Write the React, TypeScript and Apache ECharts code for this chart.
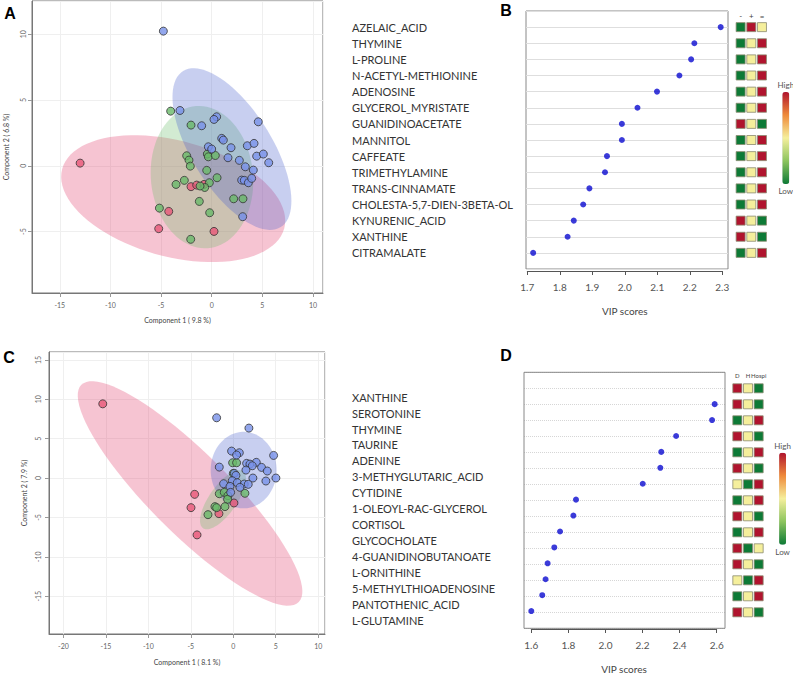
import React, { useEffect, useRef } from "react";
import * as echarts from "echarts";

// ---------- Panel A (PLS-DA scores) ----------
const aRed: number[][] = [[-12.99, 0.2], [-2.04, -1.59], [-1.48, -1.47], [-0.76, -1.42], [-4.24, -3.47], [-5.23, -4.78], [0.23, -4.99]];
const aGreen: number[][] = [[-4.05, 4.15], [-2.04, 3.09], [-2.47, 0.76], [-2.24, 0.43], [-2.11, -0.03], [-0.43, 0.89], [-0.33, 0.68], [0.36, 0.78], [-0.49, -0.35], [0.53, -0.91], [-2.7, -1.11], [-3.52, -1.42], [-0.23, -1.29], [-0.69, -1.65], [-1.15, -1.54], [2.17, -2.51], [3.09, -2.51], [-1.22, -2.71], [-0.2, -3.57], [-5.16, -3.22], [-2.07, -5.59]];
const aBlue: number[][] = [[-4.77, 10.23], [-3.13, 4.2], [0.49, 3.72], [0.23, 3.52], [-0.99, 3.04], [4.6, 3.34], [0.99, 2.08], [1.15, 1.95], [1.91, 1.37], [3.52, 1.52], [4.18, 1.7], [-0.33, 1.44], [0.0, 1.27], [1.61, 0.61], [2.73, 0.41], [4.44, 0.73], [5.1, 0.89], [5.63, 0.23], [3.32, -0.08], [4.11, -0.33], [2.96, -1.09], [3.22, -1.11], [3.62, -1.29], [3.95, -0.96], [3.06, -3.87]];
// ellipse: [cx, cy, axisA_x, axisA_y, axisB_x, axisB_y]  (red, green, blue)
const aEllipses: number[][] = [
  [-3.8, -2.5, 10.96, -2.26, 1.48, 4.26],
  [-0.96, -0.86, -0.59, 5.4, 5.03, 0.3],
  [2.0, 1.27, 4.82, -5.93, 3.35, 1.61],
];

// ---------- Panel C ----------
const cRed: number[][] = [[-15.37, 9.42], [-4.55, -2.07], [-4.98, -3.76], [-4.27, -7.22], [-1.69, -4.52], [0.08, -3.17]];
const cBlue: number[][] = [[-1.96, 7.65], [1.84, 6.34], [-0.2, 3.42], [0.71, 3.21], [0.39, 2.92], [4.75, 2.87], [2.71, 1.99], [1.57, 1.86], [1.96, 1.77], [2.24, 1.56], [3.33, 1.35], [-1.65, 1.39], [4.0, 0.89], [1.49, 1.01], [0.12, 0.59], [0.31, 0.34], [5.02, 0.0], [2.31, 0.0], [3.84, -0.38], [-0.12, -0.34], [0.47, -0.59], [1.29, -0.76], [1.76, -0.8], [-1.14, -0.72], [-0.39, -1.06], [0.78, -1.18], [-0.31, -1.82]];
const cGreen: number[][] = [[-0.08, 1.94], [0.39, 1.94], [0.0, 0.59], [1.37, -1.94], [-1.65, -1.99], [-1.06, -1.82], [-0.63, -2.24], [-0.67, -2.7], [-2.16, -3.63], [-1.96, -3.76], [-0.98, -3.63], [-2.98, -4.65]];
const cEllipses: number[][] = [
  [-5.09, -1.96, 12.8, -13.79, 3.33, 3.59],
  [-1.21, -2.75, 2.35, 3.62, 1.33, -1.0],
  [1.22, 1.01, 3.88, 0, 0, 4.86],
];

// ---------- Panel B (VIP) ----------
const bNames: string[] = ["AZELAIC_ACID", "THYMINE", "L-PROLINE", "N-ACETYL-METHIONINE", "ADENOSINE", "GLYCEROL_MYRISTATE", "GUANIDINOACETATE", "MANNITOL", "CAFFEATE", "TRIMETHYLAMINE", "TRANS-CINNAMATE", "CHOLESTA-5,7-DIEN-3BETA-OL", "KYNURENIC_ACID", "XANTHINE", "CITRAMALATE"];
const bVip: number[] = [2.295, 2.214, 2.204, 2.168, 2.099, 2.039, 1.991, 1.991, 1.945, 1.939, 1.891, 1.872, 1.843, 1.824, 1.718];
const bGroups: string[] = ["-", "+", "="];
// 0 = low, 1 = mid, 2 = high
const bHeat: number[][] = [[0, 2, 1], [0, 1, 2], [0, 1, 2], [0, 1, 2], [0, 1, 2], [0, 1, 2], [2, 1, 0], [0, 1, 2], [0, 1, 2], [0, 1, 2], [0, 1, 2], [0, 1, 2], [2, 1, 0], [2, 1, 0], [0, 1, 2]];
const bTicks = { min: 1.7, max: 2.3, step: 0.1 };

// ---------- Panel D (VIP) ----------
const dNames: string[] = ["XANTHINE", "SEROTONINE", "THYMINE", "TAURINE", "ADENINE", "3-METHYGLUTARIC_ACID", "CYTIDINE", "1-OLEOYL-RAC-GLYCEROL", "CORTISOL", "GLYCOCHOLATE", "4-GUANIDINOBUTANOATE", "L-ORNITHINE", "5-METHYLTHIOADENOSINE", "PANTOTHENIC_ACID", "L-GLUTAMINE"];
const dVip: number[] = [2.602, 2.589, 2.575, 2.381, 2.301, 2.296, 2.201, 1.841, 1.827, 1.755, 1.724, 1.688, 1.677, 1.659, 1.6];
const dGroups: string[] = ["D", "H", "Hospi"];
const dHeat: number[][] = [[2, 1, 0], [2, 1, 0], [0, 1, 2], [2, 1, 0], [0, 1, 2], [2, 1, 0], [1, 0, 2], [0, 1, 2], [2, 1, 0], [0, 1, 2], [2, 0, 1], [2, 1, 0], [1, 0, 2], [0, 1, 2], [2, 1, 0]];
const dTicks = { min: 1.6, max: 2.6, step: 0.2 };

const FONT = "Lato, 'Liberation Sans', sans-serif";
const fills = ["rgba(229,86,126,0.35)", "rgba(105,188,105,0.3)", "rgba(72,95,205,0.3)"];
const pointColors = ["rgba(232,88,120,0.8)", "rgba(105,185,105,0.8)", "rgba(120,145,232,0.8)"];
const heatColors = ["#0d7a36", "#8cc45e", "#f5ef9c", "#ef8a3a", "#b0142e"];

function ellipseSeries(data: number[][], gi: number) {
  return {
    type: "custom",
    xAxisIndex: gi,
    yAxisIndex: gi,
    silent: true,
    z: 1,
    data: data,
    encode: { x: 0, y: 1 },
    renderItem: (params: any, api: any) => {
      const e = data[params.dataIndex];
      const pts: number[][] = [];
      for (let k = 0; k < 90; k++) {
        const t = (k / 90) * Math.PI * 2;
        pts.push(api.coord([e[0] + Math.cos(t) * e[2] + Math.sin(t) * e[4], e[1] + Math.cos(t) * e[3] + Math.sin(t) * e[5]]));
      }
      return { type: "polygon", shape: { points: pts }, style: { fill: fills[params.dataIndex], stroke: "none" } };
    },
  };
}

function pointSeries(data: number[][], gi: number, ci: number) {
  return {
    type: "scatter",
    xAxisIndex: gi,
    yAxisIndex: gi,
    z: 3,
    symbolSize: 8,
    data: data,
    itemStyle: { color: pointColors[ci], borderColor: "#333", borderWidth: 0.8, opacity: 1 },
  };
}

function scoreAxes(xr: number[], yr: number[], xName: string, yName: string, ySplit: number, gi: number) {
  const lbl = { fontSize: 7, color: "#666", fontFamily: FONT, showMinLabel: false, showMaxLabel: false };
  return {
    x: {
      type: "value", gridIndex: gi, min: xr[0], max: xr[1], splitNumber: 5,
      axisLine: { onZero: false, lineStyle: { color: "#777" } },
      axisTick: { show: true, length: 4, lineStyle: { color: "#999" } },
      axisLabel: { ...lbl, margin: 8 },
      splitLine: { show: true, lineStyle: { color: "#efefef" } },
      name: xName, nameLocation: "middle", nameGap: gi === 0 ? 23 : 24,
      nameTextStyle: { fontSize: 7, color: "#444", fontFamily: FONT },
    },
    y: {
      type: "value", gridIndex: gi, min: yr[0], max: yr[1], splitNumber: ySplit,
      axisLine: { onZero: false, lineStyle: { color: "#777" } },
      axisTick: { show: true, length: 4, lineStyle: { color: "#999" } },
      axisLabel: { ...lbl, rotate: 90, margin: gi === 0 ? 6 : 8 },
      splitLine: { show: true, lineStyle: { color: "#efefef" } },
      name: yName, nameLocation: "middle", nameGap: gi === 0 ? 23 : 22,
      nameTextStyle: { fontSize: 7, color: "#444", fontFamily: FONT },
    },
  };
}

function rowAxis(gi: number, extra: any = {}) {
  return {
    type: "value", gridIndex: gi, min: -1, max: 15, interval: 1, inverse: true,
    axisLine: { show: false, onZero: false }, axisTick: { show: false }, axisLabel: { show: false }, splitLine: { show: false },
    ...extra,
  };
}

export default function App() {
  const ref = useRef<HTMLDivElement>(null);
  useEffect(() => {
    if (!ref.current) return;
    const chart = echarts.init(ref.current, null, { renderer: "svg" });
    const A = scoreAxes([-17.74, 10.99], [-9.67, 12.52], "Component 1 ( 9.8 %)", "Component 2 ( 6.8 %)", 5, 0);
    const C = scoreAxes([-21.7, 10.8], [-19.8, 16.0], "Component 1 ( 8.1 %)", "Component 2 ( 7.9 %)", 7, 4);

    const vipX = (gi: number, t: { min: number; max: number; step: number }, off: number) => ({
      type: "value", gridIndex: gi, min: t.min, max: t.max, interval: t.step, offset: off, position: "bottom",
      axisLine: { show: true, onZero: false, lineStyle: { color: "#555" } },
      axisTick: { show: true, length: 4, lineStyle: { color: "#555" } },
      axisLabel: { fontSize: 10, color: "#555", fontFamily: FONT, margin: 11, formatter: (v: number) => v.toFixed(1) },
      splitLine: { show: false },
      name: "VIP scores", nameLocation: "middle", nameGap: 35,
      nameTextStyle: { fontSize: 10, color: "#444", fontFamily: FONT },
    });
    const hidX = (gi: number) => ({ type: "value", gridIndex: gi, min: 0, max: 1, show: false });
    const heatX = (gi: number, cats: string[], fs: number, margin: number) => ({
      type: "category", gridIndex: gi, data: cats, position: "top",
      axisLine: { show: false, onZero: false }, axisTick: { show: false },
      axisLabel: { fontSize: fs, color: "#444", fontFamily: FONT, margin: margin, interval: 0 },
      splitLine: { show: false },
    });

    const heatData = (h: number[][]) => {
      const out: number[][] = [];
      h.forEach((row, r) => row.forEach((lv, c) => out.push([c, r, lv])));
      return out;
    };
    const heatSeries = (gi: number, h: number[][]) => ({
      type: "scatter", xAxisIndex: gi, yAxisIndex: gi, symbol: "rect", symbolSize: 9,
      data: heatData(h), itemStyle: { borderColor: "#8a8a70", borderWidth: 0.8, opacity: 1 },
    });

    const option: any = {
      animation: false,
      backgroundColor: "#ffffff",
      grid: [
        { left: 32, top: 1, width: 291, height: 292, show: true, borderColor: "#777", borderWidth: 1, backgroundColor: "transparent" },
        { left: 526, top: 11, width: 202, height: 258, show: true, borderColor: "#888", borderWidth: 1 },
        { left: 527.3, top: 11, width: 195, height: 258 },
        { left: 735.3, top: 11, width: 32, height: 258 },
        { left: 49, top: 352, width: 276, height: 282, show: true, borderColor: "#777", borderWidth: 1 },
        { left: 524, top: 372.3, width: 201, height: 256 },
        { left: 531.3, top: 372.3, width: 185.4, height: 256 },
        { left: 732, top: 372.3, width: 32, height: 256 },
        { left: 524, top: 372.3, width: 201, height: 256, show: true, borderColor: "#888", borderWidth: 1, backgroundColor: "transparent", z: 5 },
      ],
      xAxis: [
        A.x,
        hidX(1),
        vipX(2, bTicks, 2),
        heatX(3, bGroups, 8, -9),
        C.x,
        hidX(5),
        vipX(6, dTicks, 2),
        heatX(7, dGroups, 6, -6),
        hidX(8),
      ],
      yAxis: [
        A.y,
        rowAxis(1, { splitLine: { show: true, lineStyle: { color: "#dedede", width: 1 } } }),
        rowAxis(2, {
          axisLabel: {
            show: true, align: "left", margin: 175.3, fontSize: 11, color: "#333", fontFamily: FONT,
            formatter: (v: number) => bNames[v] ?? "",
          },
        }),
        rowAxis(3),
        C.y,
        rowAxis(5, { splitLine: { show: true, lineStyle: { color: "#d6d6d6", width: 1, type: "dotted" } } }),
        rowAxis(6, {
          axisLabel: {
            show: true, align: "left", margin: 179.3, fontSize: 11, color: "#333", fontFamily: FONT,
            verticalAlign: "top", lineHeight: 18,
            formatter: (v: number) => dNames[v] ?? "",
          },
        }),
        rowAxis(7),
        { type: "value", gridIndex: 8, min: 0, max: 1, show: false },
      ],
      visualMap: [
        {
          type: "continuous", min: 0, max: 2, dimension: 2, seriesIndex: [10], orient: "vertical",
          left: 777.5, top: 81, itemWidth: 7, itemHeight: 92, text: ["High", "Low"], textGap: 3, padding: 0,
          calculable: false, textStyle: { fontSize: 8, color: "#555", fontFamily: FONT },
          inRange: { color: heatColors },
        },
        {
          type: "continuous", min: 0, max: 2, dimension: 2, seriesIndex: [12], orient: "vertical",
          left: 774.3, top: 441.7, itemWidth: 7, itemHeight: 92, text: ["High", "Low"], textGap: 3, padding: 0,
          calculable: false, textStyle: { fontSize: 8, color: "#555", fontFamily: FONT },
          inRange: { color: heatColors },
        },
      ],
      graphic: [
        { type: "text", x: 10, y: 13, style: { text: "A", fontSize: 16, fontWeight: "bold", fontFamily: "'Liberation Sans', Arial, sans-serif", fill: "#000", align: "center", verticalAlign: "middle" } },
        { type: "text", x: 506, y: 10, style: { text: "B", fontSize: 16, fontWeight: "bold", fontFamily: "'Liberation Sans', Arial, sans-serif", fill: "#000", align: "center", verticalAlign: "middle" } },
        { type: "text", x: 9, y: 357, style: { text: "C", fontSize: 16, fontWeight: "bold", fontFamily: "'Liberation Sans', Arial, sans-serif", fill: "#000", align: "center", verticalAlign: "middle" } },
        { type: "text", x: 506, y: 355.5, style: { text: "D", fontSize: 16, fontWeight: "bold", fontFamily: "'Liberation Sans', Arial, sans-serif", fill: "#000", align: "center", verticalAlign: "middle" } },
      ],
      series: [
        ellipseSeries(aEllipses, 0),            // 0
        pointSeries(aRed, 0, 0),                // 1
        pointSeries(aGreen, 0, 1),              // 2
        pointSeries(aBlue, 0, 2),               // 3
        ellipseSeries(cEllipses, 4),            // 4
        pointSeries(cRed, 4, 0),                // 5
        pointSeries(cGreen, 4, 1),              // 6
        pointSeries(cBlue, 4, 2),               // 7
        {                                        // 8
          type: "scatter", xAxisIndex: 2, yAxisIndex: 2, symbolSize: 6, z: 3,
          data: bVip.map((v, i) => [v, i]), itemStyle: { color: "#0a0ad0" },
        },
        {                                        // 9
          type: "scatter", xAxisIndex: 6, yAxisIndex: 6, symbolSize: 6, z: 3,
          data: dVip.map((v, i) => [v, i]), itemStyle: { color: "#0a0ad0" },
        },
        heatSeries(3, bHeat),                    // 10
        { type: "scatter", xAxisIndex: 1, yAxisIndex: 1, data: [] }, // 11 placeholder
        heatSeries(7, dHeat),                    // 12
      ],
    };
    chart.setOption(option);
    return () => chart.dispose();
  }, []);
  return (
    <div
      ref={ref}
      style={{ position: "fixed", left: 0, top: 0, width: 793, height: 675, background: "#fff" }}
    />
  );
}
